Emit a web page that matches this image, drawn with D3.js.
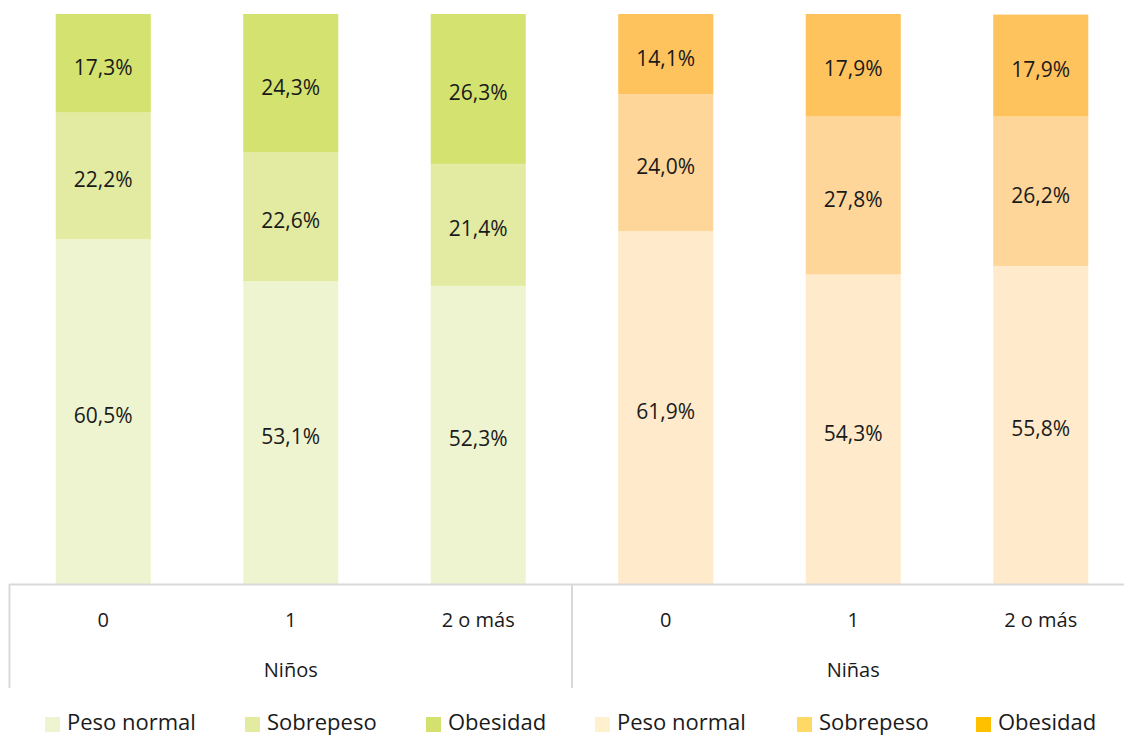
<!DOCTYPE html>
<html>
<head>
<meta charset="utf-8">
<script src="https://cdn.jsdelivr.net/npm/d3@7"></script>
<style>
  html, body { margin: 0; padding: 0; background: #fff; }
  svg { display: block; }
  text { font-family: "Open Sans", sans-serif; fill: #1a1a1a; }
</style>
</head>
<body>
<svg id="chart" width="1124" height="737"></svg>
<script>
// Categories: number of children (x axis) within each sex group
const groups = ["Niños", "Niñas"];
const categories = ["0", "1", "2 o más"];
const seriesNames = ["Peso normal", "Sobrepeso", "Obesidad"];

// Percentages per bar (order: Niños 0,1,2+ then Niñas 0,1,2+)
const pesoNormal = [60.5, 53.1, 52.3, 61.9, 54.3, 55.8];
const sobrepeso  = [22.2, 22.6, 21.4, 24.0, 27.8, 26.2];
const obesidad   = [17.3, 24.3, 26.3, 14.1, 17.9, 17.9];

// Bar fills per group and legend swatches
const barColors = {
  "Niños": ["#eff4d0", "#e2eba1", "#d4e26f"],
  "Niñas": ["#ffebcb", "#ffd699", "#ffc35e"]
};
const legendColors = {
  "Niños": ["#eff4d0", "#e2eba0", "#d4e16f"],
  "Niñas": ["#fff0ce", "#ffd966", "#ffc000"]
};

const svg = d3.select("#chart");

const rows = [];
groups.forEach((g, gi) => {
  categories.forEach((c, ci) => {
    const i = gi * categories.length + ci;
    rows.push({ key: g + "|" + c, group: g, cat: c,
      values: [pesoNormal[i], sobrepeso[i], obesidad[i]] });
  });
});

const x = d3.scaleBand()
  .domain(rows.map(d => d.key))
  .range([9.5, 1134.5])
  .paddingInner(0.493)
  .paddingOuter(0.2465);

const y = d3.scaleLinear().domain([0, 100]).range([584, 14]);

// Stacked segments
rows.forEach(r => {
  let acc = 0;
  r.values.forEach((v, si) => {
    const y0 = acc, y1 = acc + v;
    acc = y1;
    svg.append("rect")
      .attr("x", x(r.key))
      .attr("width", x.bandwidth())
      .attr("y", y(y1))
      .attr("height", y(y0) - y(y1))
      .attr("fill", barColors[r.group][si]);
    svg.append("text")
      .attr("x", x(r.key) + x.bandwidth() / 2)
      .attr("y", (y(y0) + y(y1)) / 2 + 4)
      .attr("dy", "0.35em")
      .attr("text-anchor", "middle")
      .style("font-size", "21px")
      .text(v.toFixed(1).replace(".", ",") + "%");
  });
});

// Axis: baseline, group separators, labels
const axisColor = "#d9d9d9";
svg.append("line")
  .attr("x1", 9).attr("x2", 1124)
  .attr("y1", 584.5).attr("y2", 584.5)
  .attr("stroke", axisColor).attr("stroke-width", 2);

const step = x.step();
const groupEdges = [x.range()[0], x.range()[0] + step * categories.length];
groupEdges.forEach(px => {
  svg.append("line")
    .attr("x1", px).attr("x2", px)
    .attr("y1", 584).attr("y2", 688)
    .attr("stroke", axisColor).attr("stroke-width", 2);
});

rows.forEach(r => {
  svg.append("text")
    .attr("x", x(r.key) + x.bandwidth() / 2)
    .attr("y", 620)
    .attr("dy", "0.35em")
    .attr("text-anchor", "middle")
    .style("font-size", "20px")
    .text(r.cat);
});

groups.forEach((g, gi) => {
  const first = x(g + "|" + categories[0]);
  const last = x(g + "|" + categories[categories.length - 1]) + x.bandwidth();
  svg.append("text")
    .attr("x", (first + last) / 2)
    .attr("y", 670)
    .attr("dy", "0.35em")
    .attr("text-anchor", "middle")
    .style("font-size", "20px")
    .text(g);
});

// Legend
const legendX = [45, 245, 426, 595, 797, 976];
let li = 0;
groups.forEach(g => {
  seriesNames.forEach((s, si) => {
    const lx = legendX[li++];
    svg.append("rect")
      .attr("x", lx).attr("y", 717)
      .attr("width", 15).attr("height", 15)
      .attr("fill", legendColors[g][si]);
    svg.append("text")
      .attr("x", lx + 22).attr("y", 730)
      .style("font-size", "22px")
      .text(s);
  });
});
</script>
</body>
</html>
